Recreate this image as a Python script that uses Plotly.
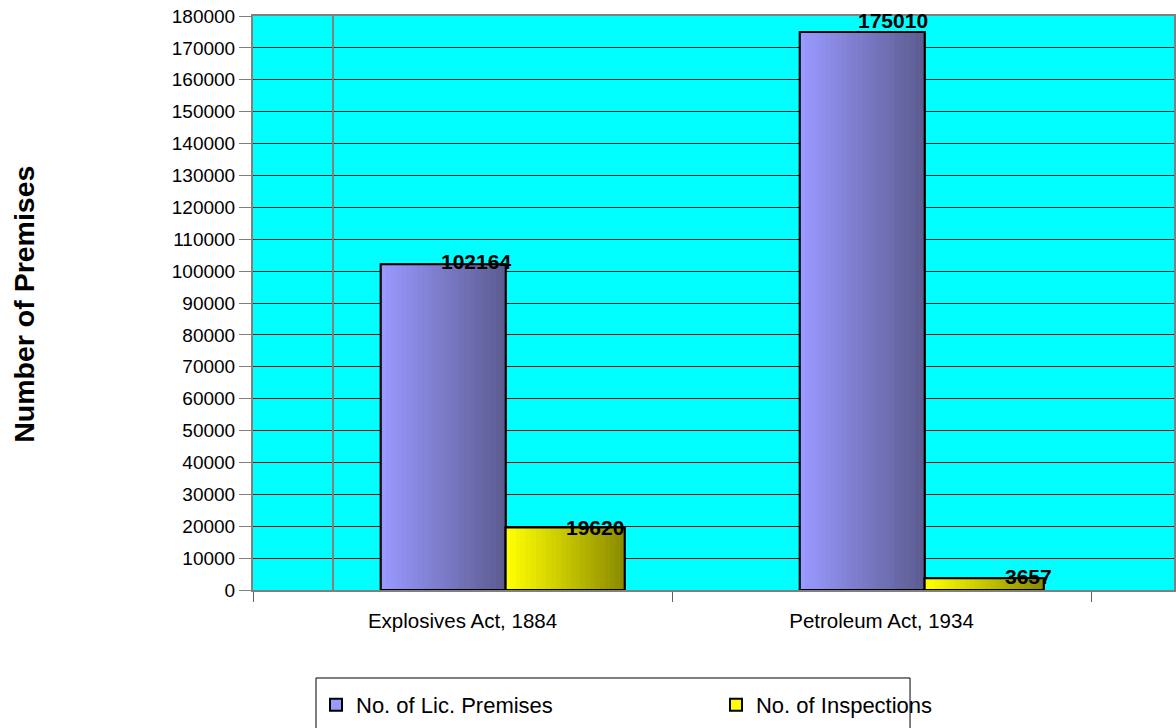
import plotly.graph_objects as go

categories = ["Explosives Act, 1884", "Petroleum Act, 1934"]
lic_premises = [102164, 175010]
inspections = [19620, 3657]
series_names = ["No. of Lic. Premises", "No. of Inspections"]
y_tick_values = list(range(0, 180001, 10000))
y_title = "Number of Premises"

FONT = "Liberation Sans, Arial, sans-serif"
xpos = list(range(len(categories)))

def lerp(c1, c2, t):
    return "rgb(%d,%d,%d)" % tuple(round(a + (b - a) * t) for a, b in zip(c1, c2))

fig = go.Figure()

# name, values, offset, width, light colour, dark colour, label x-shift, label y-shift, legend
series = [
    (series_names[0], lic_premises, -0.195, 0.298, (153, 153, 255), (92, 92, 145), [13, 11], [3, 11], "legend"),
    (series_names[1], inspections, 0.103, 0.284, (255, 255, 0), (140, 140, 0), [132, 147], [0, 2], "legend2"),
]

N = 24
for name, vals, off, w, c1, c2, lab_dx, lab_dy, lg in series:
    fig.add_trace(go.Bar(x=xpos, y=vals, name=name, offset=off, width=w,
                         marker=dict(color="rgb(%d,%d,%d)" % c1, line=dict(color="black", width=2)),
                         showlegend=True, legend=lg, hoverinfo="skip"))
    for i in range(N):
        t = i / (N - 1)
        fig.add_trace(go.Bar(x=xpos, y=vals, offset=off + i * w / N, width=w / N + 0.001,
                             marker=dict(color=lerp(c1, c2, t), line=dict(width=0)),
                             showlegend=False, hoverinfo="skip"))
    fig.add_trace(go.Bar(x=xpos, y=vals, offset=off, width=w,
                         marker=dict(color="rgba(0,0,0,0)", line=dict(color="black", width=2)),
                         showlegend=False, hoverinfo="skip"))
    for xi, v, dx, dy in zip(xpos, vals, lab_dx, lab_dy):
        fig.add_annotation(x=xi, y=v, text="<b>%d</b>" % v, showarrow=False,
                           xshift=dx, yshift=dy, yanchor="middle",
                           font=dict(family=FONT, size=21, color="black"))

legend_common = dict(orientation="h", y=-0.2003, xanchor="left", yanchor="middle",
                     borderwidth=0, bgcolor="rgba(0,0,0,0)",
                     font=dict(family=FONT, size=22, color="black"))

fig.add_shape(type="line", xref="x", yref="paper", x0=-0.309, x1=-0.309, y0=0, y1=1,
              line=dict(color="#808080", width=2), layer="above")
fig.add_shape(type="rect", xref="paper", yref="paper", x0=0.0684, x1=0.7134,
              y0=-0.26, y1=-0.1533, line=dict(color="black", width=1),
              fillcolor="rgba(0,0,0,0)")

fig.add_annotation(xref="paper", yref="paper", x=-0.2486, y=0.497, text="<b>%s</b>" % y_title,
                   textangle=-90, showarrow=False, xanchor="center", yanchor="middle",
                   font=dict(family=FONT, size=28.5, color="black"))

fig.update_layout(
    width=1176, height=728,
    barmode="overlay",
    paper_bgcolor="white",
    plot_bgcolor="#00FFFF",
    margin=dict(l=253, r=2, t=16, b=138, autoexpand=False),
    font=dict(family=FONT, size=16, color="black"),
    showlegend=True,
    legend=dict(x=0.0684, **legend_common),
    legend2=dict(x=0.5027, **legend_common),
    xaxis=dict(range=[-0.5, 1.698], tickvals=xpos, ticktext=categories, ticks="",
               showgrid=False, zeroline=False, showline=True, linecolor="#808080",
               linewidth=2, mirror=True, tickfont=dict(size=20.5), automargin=False,
               ticklabelstandoff=11,
               minor=dict(tickvals=[-0.5, 0.5, 1.5], ticks="outside", ticklen=10,
                          tickcolor="#606060", tickwidth=1, showgrid=False)),
    yaxis=dict(range=[0, 180000], tickvals=y_tick_values, tickformat="d", ticks="outside",
               ticklen=12, tickcolor="#808080", showgrid=True, gridcolor="#1a1a1a", gridwidth=1,
               zeroline=False, showline=True, linecolor="#808080", linewidth=2, mirror=True,
               tickfont=dict(size=19), automargin=False, ticklabeloverflow="allow"),
)

fig.write_html("out.html", config={"displayModeBar": False},
               post_script="document.body.style.margin='0px';")
